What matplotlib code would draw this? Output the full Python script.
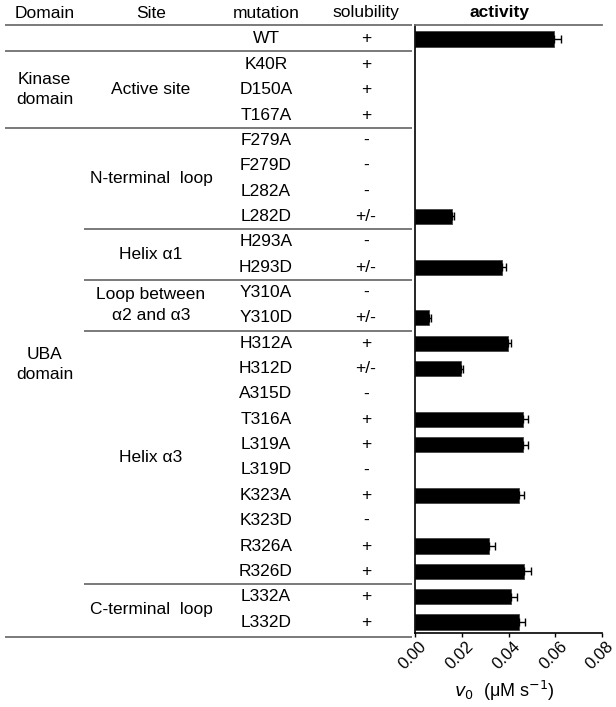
import numpy as np
import matplotlib.pyplot as plt
import matplotlib.transforms as mtransforms

plt.rcParams['font.family'] = ['Liberation Sans', 'DejaVu Sans']

# %% Data
mutations = ['WT', 'K40R', 'D150A', 'T167A', 'F279A', 'F279D', 'L282A', 'L282D',
             'H293A', 'H293D', 'Y310A', 'Y310D', 'H312A', 'H312D', 'A315D', 'T316A',
             'L319A', 'L319D', 'K323A', 'K323D', 'R326A', 'R326D', 'L332A', 'L332D']
solubility = ['+', '+', '+', '+', '-', '-', '-', '+/-',
              '-', '+/-', '-', '+/-', '+', '+/-', '-', '+',
              '+', '-', '+', '-', '+', '+', '+', '+']
# initial rate v0 (uM/s), 0 = no activity
activity = [0.0595, 0, 0, 0, 0, 0, 0, 0.0157,
            0, 0.0374, 0, 0.0061, 0.0399, 0.0195, 0, 0.0462,
            0.0463, 0, 0.0446, 0, 0.0315, 0.0466, 0.0411, 0.0445]
activity_err = [0.0030, 0, 0, 0, 0, 0, 0, 0.0010,
                0, 0.0016, 0, 0.0006, 0.0013, 0.0010, 0, 0.0022,
                0.0020, 0, 0.0021, 0, 0.0028, 0.0031, 0.0024, 0.0026]

# (label, first row, last row)
domains = [('Kinase\ndomain', 1, 3), ('UBA\ndomain', 4, 23)]
sites = [('Active site', 1, 3), ('N-terminal  loop', 4, 7), ('Helix α1', 8, 9),
         ('Loop between\nα2 and α3', 10, 11), ('Helix α3', 12, 21),
         ('C-terminal  loop', 22, 23)]
xticks = [0.00, 0.02, 0.04, 0.06, 0.08]

# %% Figure
W, H = 616, 707
fig = plt.figure(figsize=(W / 100, H / 100), dpi=100)
ax = fig.add_axes([415 / W, 1 - 633 / H, 187 / W, 608 / H])

rows = np.arange(len(mutations))
act = np.array(activity)
err = np.array(activity_err)
has = act > 0

ax.barh(rows[has], act[has], height=0.6, color='black', edgecolor='#444444', linewidth=0.6)
ax.errorbar(act[has], rows[has], xerr=[np.zeros(has.sum()), err[has]], fmt='none',
            ecolor='black', elinewidth=1.0, capsize=3, capthick=1.0)

ax.set_xlim(0, 0.08)
ax.set_ylim(23.43, -0.55)
ax.set_yticks([])
ax.set_xticks(xticks)
ax.set_xticklabels([f'{t:.2f}' for t in xticks], rotation=45, ha='right',
                   rotation_mode='anchor', fontsize=12)
ax.tick_params(axis='x', length=3, width=1, pad=4)
# nudge tick labels so they sit like the original (right end a bit past the tick)
shift = mtransforms.ScaledTranslation(4 / 100, 4 / 100, fig.dpi_scale_trans)
for lab in ax.get_xticklabels():
    lab.set_transform(lab.get_transform() + shift)
ax.spines['right'].set_visible(False)
ax.spines['top'].set_color('#707070')
ax.spines['top'].set_linewidth(1.3)
ax.spines['left'].set_linewidth(1.2)
ax.spines['bottom'].set_linewidth(1.2)
ax.set_xlabel(r'$v_0$  (μM s$^{-1}$)', fontsize=13)
ax.xaxis.set_label_coords(0.48, -0.076)

# %% Table on the left
tr = mtransforms.blended_transform_factory(fig.transFigure, ax.transData)
fs = 12.5
col_x = {'domain': 44.5, 'site': 151, 'mutation': 266, 'solubility': 366}

hy = 1 - 13 / H
for name, lab in [('domain', 'Domain'), ('site', 'Site'), ('mutation', 'mutation'),
                  ('solubility', 'solubility')]:
    fig.text(col_x[name] / W, hy, lab, ha='center', va='center', fontsize=fs)
fig.text(500 / W, hy, 'activity', ha='center', va='center', fontsize=fs, fontweight='bold')

for i, (m, s) in enumerate(zip(mutations, solubility)):
    ax.text(col_x['mutation'] / W, i, m, transform=tr, ha='center', va='center',
            fontsize=fs, clip_on=False)
    ax.text(col_x['solubility'] / W, i, s, transform=tr, ha='center', va='center',
            fontsize=fs, clip_on=False)

for lab, a, b in domains:
    yc = (a + b) / 2 if b - a < 5 else 12.85
    ax.text(col_x['domain'] / W, yc, lab, transform=tr, ha='center', va='center',
            fontsize=fs, linespacing=1.45, clip_on=False)
for lab, a, b in sites:
    ax.text(col_x['site'] / W, (a + b) / 2, lab, transform=tr, ha='center', va='center',
            fontsize=fs, linespacing=1.45, clip_on=False)

# table rules
rules = [(-0.55, 5), (0.48, 5), (3.53, 5), (7.5, 84),
         (9.5, 84), (11.5, 84), (21.5, 84), (23.6, 5)]
for y, x0 in rules:
    ax.plot([x0 / W, 412 / W], [y, y], transform=tr, color='#707070',
            linewidth=1.3, clip_on=False, solid_capstyle='butt')

fig.savefig('out.png', dpi=100)
